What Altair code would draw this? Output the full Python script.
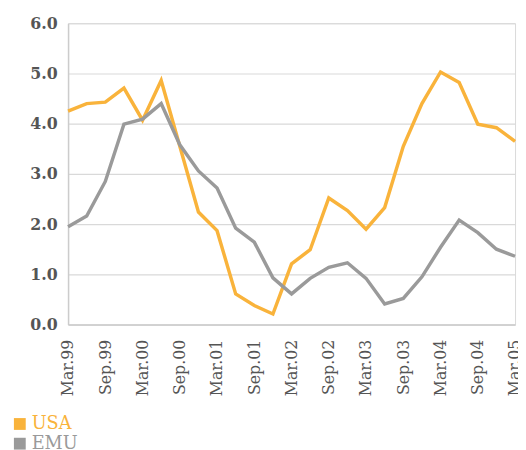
import altair as alt
import pandas as pd

quarters = ["Mar.99", "Jun.99", "Sep.99", "Dec.99", "Mar.00", "Jun.00", "Sep.00", "Dec.00",
            "Mar.01", "Jun.01", "Sep.01", "Dec.01", "Mar.02", "Jun.02", "Sep.02", "Dec.02",
            "Mar.03", "Jun.03", "Sep.03", "Dec.03", "Mar.04", "Jun.04", "Sep.04", "Dec.04", "Mar.05"]
usa = [4.25, 4.40, 4.43, 4.71, 4.07, 4.86, 3.55, 2.24, 1.87, 0.61, 0.38, 0.21, 1.21,
       1.49, 2.52, 2.27, 1.90, 2.33, 3.55, 4.40, 5.03, 4.82, 3.99, 3.92, 3.65]
emu = [1.95, 2.16, 2.85, 3.99, 4.09, 4.40, 3.58, 3.06, 2.72, 1.92, 1.64, 0.93, 0.61,
       0.92, 1.14, 1.23, 0.92, 0.41, 0.52, 0.95, 1.54, 2.08, 1.83, 1.50, 1.36]
series = ["USA", "EMU"]
colors = ["#F9B33B", "#9A9A9A"]
tick_labels = quarters[::2]

rows = []
for i, q in enumerate(quarters):
    rows.append({"q": q, "s": "USA", "v": usa[i], "o": 0})
    rows.append({"q": q, "s": "EMU", "v": emu[i], "o": 1})
df = pd.DataFrame(rows)

font = "DejaVu Serif"
col_expr = "datum.label == 'USA' ? '#F9B33B' : '#9A9A9A'"
col_expr_v = "datum.value == 'USA' ? '#F9B33B' : '#9A9A9A'"

chart = alt.Chart(df).mark_line(strokeWidth=3.5).encode(
    x=alt.X("q:O", sort=quarters, scale=alt.Scale(type="point", padding=0),
            axis=alt.Axis(title=None, values=tick_labels, labelAngle=-90, ticks=False,
                          grid=False, labelPadding=15, labelFont=font, labelFontSize=16,
                          labelColor="#555555", domainColor="#cccccc", domainWidth=1.5)),
    y=alt.Y("v:Q", scale=alt.Scale(domain=[0, 6], nice=False),
            axis=alt.Axis(title=None, values=[0, 1, 2, 3, 4, 5, 6], format=".1f", ticks=False,
                          labelPadding=11, labelFont=font, labelFontSize=16, labelFontWeight="bold",
                          labelColor="#555555", domainColor="#cccccc", domainWidth=1.5,
                          gridColor="#d9d9d9", gridWidth=1.2)),
    color=alt.Color("s:N", scale=alt.Scale(domain=series, range=colors),
                    legend=alt.Legend(title=None, orient="none", legendX=-58, legendY=398,
                                      symbolType="square", symbolSize=144, symbolStrokeWidth=0,
                                      symbolFillColor={"expr": col_expr_v},
                                      labelFont=font, labelFontSize=18, rowPadding=2, padding=0,
                                      labelOffset=3,
                                      labelColor={"expr": col_expr})),
    order="o:Q",
).properties(
    width=454, height=306,
    autosize=alt.AutoSizeParams(type="none"),
    padding={"left": 61, "top": 12, "right": 3, "bottom": 130},
).configure_view(stroke="#d9d9d9")

chart.save("out.html", embed_options={"renderer": "svg", "actions": False})
